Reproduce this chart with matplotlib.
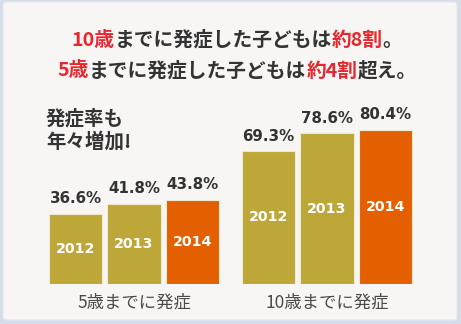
import matplotlib
matplotlib.use("Agg")
import matplotlib.pyplot as plt
from matplotlib.patches import FancyBboxPatch

plt.rcParams['font.family'] = ['Noto Sans CJK JP', 'DejaVu Sans']

# data
years = ['2012', '2013', '2014']
groups = ['5歳までに発症', '10歳までに発症']
by5 = [36.6, 41.8, 43.8]
by10 = [69.3, 78.6, 80.4]
values = [by5, by10]

olive = '#bda739'
orange = '#e35f00'
red = '#e8262d'
dark = '#333333'
bar_colors = [olive, olive, orange]

W, H = 461, 324
fig = plt.figure(figsize=(W / 100, H / 100), dpi=100)
fig.patch.set_facecolor('#d5dcea')

# inner panel
panel = FancyBboxPatch((3 / W, 4 / H), 454 / W, 318 / H,
                       boxstyle='round,pad=0,rounding_size=0.008',
                       transform=fig.transFigure, facecolor='#f7f6f4',
                       edgecolor='#e4e7ee', linewidth=0.8, zorder=-5)
fig.patches.append(panel)

# axes: baseline 284px from top, 1.92 px per percent
pitch = 58.5
ax = fig.add_axes([0, 40 / H, 1, 192 / H])
ax.set_xlim(-75.5 / pitch, (W - 75.5) / pitch)
ax.set_ylim(0, 100)
ax.axis('off')
ax.patch.set_alpha(0)

group_gap = 3.3
for g, (name, vals) in enumerate(zip(groups, values)):
    xs = [g * group_gap + i for i in range(len(vals))]
    ax.bar(xs, vals, width=0.92, color=bar_colors, edgecolor='#efe9cf',
           linewidth=0.8)
    for x, v, yr in zip(xs, vals, years):
        ax.annotate(f'{v:.1f}%', (x, v), xytext=(0, 7.5), textcoords='offset points',
                    ha='center', va='baseline', fontsize=10.8, fontweight='bold',
                    color=dark, family='DejaVu Sans')
        ax.text(x, v / 2, yr, ha='center', va='center', fontsize=10.3,
                fontweight='bold', color='white', family='DejaVu Sans')
    ax.annotate(name, (g * group_gap + 1, 0), xytext=(0, -13),
                textcoords='offset points', ha='center', va='center',
                fontsize=12.5, color='#4a4a4a', annotation_clip=False)

# side note
fig.text(46 / W, 1 - 130 / H, '発症率も\n年々増加!', ha='left', va='center',
         fontsize=14, fontweight='bold', color=dark, linespacing=1.2)

# title lines with red highlights
lines = [
    ([('10歳', red), ('までに発症した子どもは', dark), ('約8割', red), ('。', dark)], 40),
    ([('5歳', red), ('までに発症した子どもは', dark), ('約4割', red), ('超え。', dark)], 71),
]
fig.canvas.draw()
r = fig.canvas.get_renderer()
for parts, ypix in lines:
    texts = [fig.text(0, 1 - ypix / H, s, color=c, fontsize=14.2, fontweight='bold',
                      ha='left', va='center') for s, c in parts]
    widths = [t.get_window_extent(r).width for t in texts]
    x = 237 - sum(widths) / 2
    for t, w in zip(texts, widths):
        t.set_x(x / W)
        x += w

fig.savefig('out.png', dpi=100, facecolor=fig.get_facecolor())
